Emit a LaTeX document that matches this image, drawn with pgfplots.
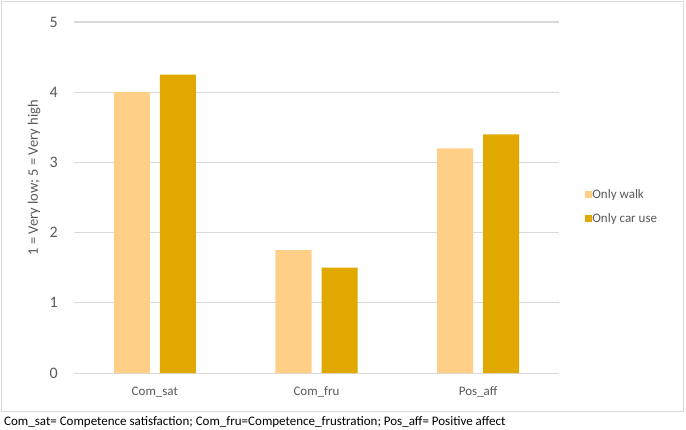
\documentclass[border=0pt]{standalone}
\usepackage{pgfplots}
\pgfplotsset{compat=1.18}
\usepackage{fontspec}
\setmainfont{Carlito}
\definecolor{walk}{HTML}{FFCF87}
\definecolor{car}{HTML}{E1A800}
\definecolor{gridc}{HTML}{D9D9D9}
\definecolor{txt}{HTML}{595959}
\begin{document}
\begin{tikzpicture}[x=1pt,y=1pt]
\useasboundingbox (0,0) rectangle (686,429);
\draw[gridc, line width=1pt] (1.5,18) rectangle (683.5,427.5);
\begin{axis}[
  at={(74pt,56pt)}, anchor=south west,
  scale only axis, width=485pt, height=351pt,
  ybar=10pt, bar width=36pt,
  xmin=-0.5, xmax=2.5, ymin=0, ymax=5,
  xtick={0,1,2}, xticklabels={Com\_sat,Com\_fru,Pos\_aff},
  ytick={0,1,2,3,4,5},
  major tick length=0pt,
  axis line style={draw=none},
  ymajorgrids, grid style={gridc, line width=1pt},
  /pgf/number format/assume math mode=true,
  yticklabel style={font=\fontsize{16}{18}\selectfont, text=txt, inner sep=0pt, xshift=-16pt, anchor=east},
  xticklabel style={font=\fontsize{13}{15}\selectfont, text=txt, inner sep=0pt, anchor=base, yshift=-22pt},
  ylabel={1 = Very low; 5 = Very high},
  ylabel style={font=\fontsize{14.5}{16}\selectfont, text=txt, at={(axis description cs:-0.0825,0.556)}, anchor=center},
  legend style={draw=none, fill=none, at={(axis description cs:1.054,0.474)}, anchor=west,
    font=\fontsize{13}{15}\selectfont, text=txt, inner sep=0pt, row sep=14pt,
    nodes={inner sep=0pt, anchor=west}},
  legend cell align=left,
  legend image code/.code={\fill[#1,draw=none] (0pt,-3.5pt) rectangle (7pt,3.5pt);},
  /tikz/every even column/.append style={column sep=4pt},
]
\addplot[fill=walk, draw=none] coordinates {(0,4.0) (1,1.75) (2,3.2)};
\addplot[fill=car, draw=none] coordinates {(0,4.25) (1,1.5) (2,3.4)};
\legend{Only walk, Only car use}
\end{axis}
\node[anchor=base west, inner sep=0pt, font=\fontsize{13}{15}\selectfont] at (4,4) {Com\_sat= Competence satisfaction; Com\_fru=Competence\_frustration; Pos\_aff= Positive affect};
\end{tikzpicture}
\end{document}
